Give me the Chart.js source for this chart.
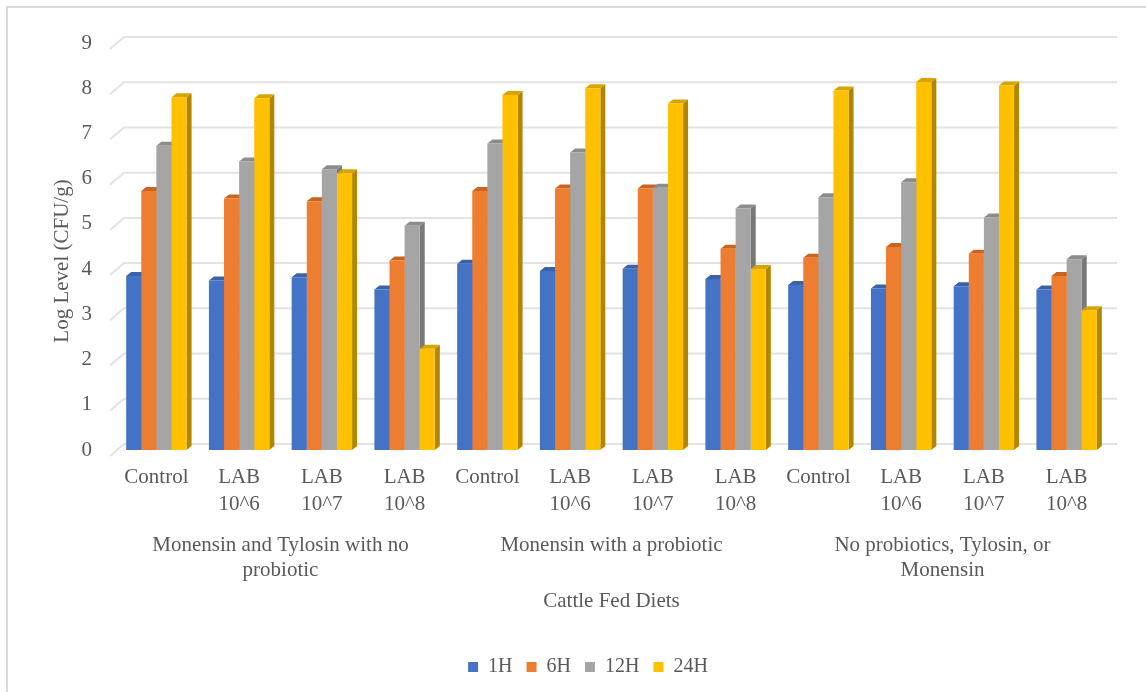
<!DOCTYPE html>
<html>
<head>
<meta charset="utf-8">
<script src="https://cdn.jsdelivr.net/npm/chart.js@4.4.1/dist/chart.umd.min.js"></script>
<style>
  html, body { margin: 0; padding: 0; background: #ffffff; }
  #wrap { width: 1146px; height: 692px; position: relative; }
</style>
</head>
<body>
<div id="wrap"><canvas id="c" width="1146" height="692"></canvas></div>
<script>
// Category labels (lower axis level)
const categories = [
  'Control', ['LAB', '10^6'], ['LAB', '10^7'], ['LAB', '10^8'],
  'Control', ['LAB', '10^6'], ['LAB', '10^7'], ['LAB', '10^8'],
  'Control', ['LAB', '10^6'], ['LAB', '10^7'], ['LAB', '10^8']
];

// Diet groups (upper axis level) and how many categories each spans
const groupLabels = [
  ['Monensin and Tylosin with no', 'probiotic'],
  ['Monensin with a probiotic'],
  ['No probiotics, Tylosin, or', 'Monensin']
];
const groupSizes = [4, 4, 4];

// Series: log level (CFU/g) at each sampling time
const seriesNames = ['1H', '6H', '12H', '24H'];
const h1  = [3.85, 3.75, 3.82, 3.55, 4.12, 3.96, 4.01, 3.78, 3.65, 3.57, 3.62, 3.55];
const h6  = [5.73, 5.56, 5.50, 4.19, 5.73, 5.78, 5.78, 4.45, 4.25, 4.49, 4.34, 3.85];
const h12 = [6.73, 6.38, 6.21, 4.96, 6.78, 6.58, 5.80, 5.34, 5.59, 5.92, 5.14, 4.22];
const h24 = [7.80, 7.78, 6.12, 2.24, 7.85, 8.00, 7.66, 4.00, 7.95, 8.14, 8.06, 3.09];

// Axis range
const yMin = 0, yMax = 9, yStep = 1;

const frontColors = ['#4472C4', '#ED7D31', '#A5A5A5', '#FFC000'];
const sideColors  = ['#2F528F', '#AE5A21', '#787878', '#B38600'];
const topColors   = ['#3A62A8', '#C8651F', '#8C8C8C', '#D9A300'];

const textColor = '#595959';
const fontFamily = "'Liberation Serif', 'Times New Roman', serif";
Chart.defaults.font.family = fontFamily;
Chart.defaults.color = textColor;

const DEPTH_X = 5, DEPTH_Y = 4;       // bar extrusion
const WALL_X = 9, WALL_Y = 6;         // back wall offset from bar plane
const FLOOR_X = 5, FLOOR_Y = 6;       // front floor edge offset

const depthPlugin = {
  id: 'depth3d',
  beforeDraw(chart) {
    const ctx = chart.ctx;
    ctx.save();
    ctx.strokeStyle = '#D9D9D9';
    ctx.lineWidth = 2;
    ctx.strokeRect(7, 7, chart.width + 40, chart.height + 40);
    ctx.restore();
  },
  beforeDatasetsDraw(chart) {
    const ctx = chart.ctx;
    const y = chart.scales.y;
    const area = chart.chartArea;
    ctx.save();
    // back wall gridlines with the slanted floor ticks on the left
    ctx.strokeStyle = '#E2E2E2';
    ctx.lineWidth = 2;
    for (let v = yMin; v <= yMax; v += yStep) {
      const py = y.getPixelForValue(v);
      ctx.beginPath();
      ctx.moveTo(area.left - FLOOR_X, py + FLOOR_Y);
      ctx.lineTo(area.left + WALL_X, py - WALL_Y);
      ctx.lineTo(area.right + WALL_X, py - WALL_Y);
      ctx.stroke();
    }
    // side and top faces of every bar; front faces are drawn over them
    chart.data.datasets.forEach((ds, i) => {
      const meta = chart.getDatasetMeta(i);
      meta.data.forEach((bar) => {
        const {x, y: top, base, width} = bar.getProps(['x', 'y', 'base', 'width'], true);
        const l = x - width / 2, r = x + width / 2;
        ctx.fillStyle = sideColors[i];
        ctx.beginPath();
        ctx.moveTo(r, top);
        ctx.lineTo(r + DEPTH_X, top - DEPTH_Y);
        ctx.lineTo(r + DEPTH_X, base - DEPTH_Y);
        ctx.lineTo(r, base);
        ctx.closePath();
        ctx.fill();
        ctx.fillStyle = topColors[i];
        ctx.beginPath();
        ctx.moveTo(l, top);
        ctx.lineTo(l + DEPTH_X, top - DEPTH_Y);
        ctx.lineTo(r + DEPTH_X, top - DEPTH_Y);
        ctx.lineTo(r, top);
        ctx.closePath();
        ctx.fill();
      });
    });
    ctx.restore();
  },
  afterDraw(chart) {
    const ctx = chart.ctx;
    const xs = chart.scales.x;
    ctx.save();
    ctx.fillStyle = textColor;
    ctx.font = '21px ' + fontFamily;
    ctx.textAlign = 'center';
    ctx.textBaseline = 'middle';
    // group labels under the category labels
    let start = 0;
    groupLabels.forEach((lines, g) => {
      const end = start + groupSizes[g] - 1;
      const cx = (xs.getPixelForTick(start) + xs.getPixelForTick(end)) / 2;
      lines.forEach((t, k) => ctx.fillText(t, cx, 545 + k * 25.5));
      start = end + 1;
    });
    // value axis title
    ctx.translate(62, 261);
    ctx.rotate(-Math.PI / 2);
    ctx.fillText('Log Level (CFU/g)', 0, 0);
    ctx.restore();
  }
};

const datasets = seriesNames.map((name, i) => ({
  label: name,
  data: [h1, h6, h12, h24][i],
  backgroundColor: frontColors[i],
  borderWidth: 0,
  barPercentage: 1.0,
  categoryPercentage: 0.73
}));

new Chart(document.getElementById('c'), {
  type: 'bar',
  data: { labels: categories, datasets },
  options: {
    responsive: false,
    animation: false,
    layout: { padding: { left: 68, right: 38, top: 43, bottom: 5 } },
    plugins: {
      legend: {
        position: 'bottom',
        labels: {
          boxWidth: 10,
          boxHeight: 10,
          padding: 14,
          color: textColor,
          font: { size: 20, family: fontFamily }
        }
      },
      tooltip: { enabled: false }
    },
    scales: {
      x: {
        grid: { display: false },
        border: { display: false },
        ticks: {
          color: textColor,
          padding: 6,
          maxRotation: 0,
          autoSkip: false,
          font: { size: 21, family: fontFamily, lineHeight: 1.3 }
        },
        title: {
          display: true,
          text: 'Cattle Fed Diets',
          color: textColor,
          font: { size: 21, family: fontFamily },
          padding: { top: 0, bottom: 29 }
        },
        afterFit(scale) { scale.height = 193; }
      },
      y: {
        min: yMin,
        max: yMax,
        grid: { display: false },
        border: { display: false },
        ticks: {
          stepSize: yStep,
          color: textColor,
          padding: 15,
          font: { size: 21, family: fontFamily }
        },
        afterFit(scale) { scale.width = 47; }
      }
    }
  },
  plugins: [depthPlugin]
});
</script>
</body>
</html>
